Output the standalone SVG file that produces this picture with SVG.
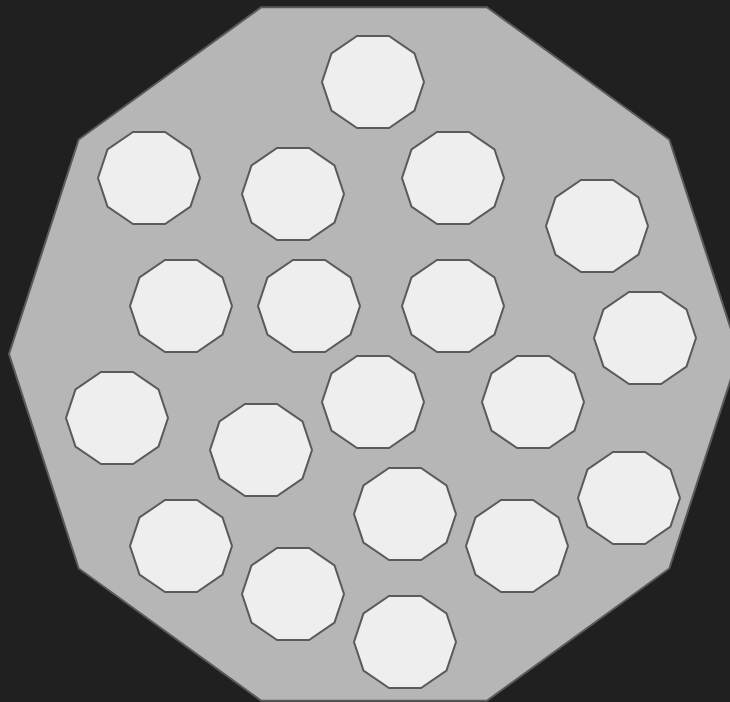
<svg xmlns="http://www.w3.org/2000/svg" xmlns:xlink="http://www.w3.org/1999/xlink" width="730" height="702" viewBox="0 0 730 702">
<style>
.outer{fill:#b6b6b6;stroke:#5a5a5a;stroke-width:2;stroke-linejoin:miter}
.cell{fill:#eeeeee;stroke:#5a5a5a;stroke-width:2}
</style>
<defs>
<polygon id="dec" points="-16,-46 16,-46 41.5,-28.5 51,0 41.5,28.5 16,46 -16,46 -41.5,28.5 -51,0 -41.5,-28.5"/>
</defs>
<rect width="730" height="702" fill="#202020"/>
<g id="container">
<polygon class="outer" points="261.2,7.2 486.8,7.2 669.3,139.5 739,354 669.3,568.5 486.8,700.8 261.2,700.8 78.7,568.5 9,354 78.7,139.5"/>
</g>
<g id="cells">
<use id="c1" class="cell" xlink:href="#dec" x="373" y="82"/>
<use id="c2" class="cell" xlink:href="#dec" x="149" y="178"/>
<use id="c3" class="cell" xlink:href="#dec" x="293" y="194"/>
<use id="c4" class="cell" xlink:href="#dec" x="453" y="178"/>
<use id="c5" class="cell" xlink:href="#dec" x="597" y="226"/>
<use id="c6" class="cell" xlink:href="#dec" x="181" y="306"/>
<use id="c7" class="cell" xlink:href="#dec" x="309" y="306"/>
<use id="c8" class="cell" xlink:href="#dec" x="453" y="306"/>
<use id="c9" class="cell" xlink:href="#dec" x="645" y="338"/>
<use id="c10" class="cell" xlink:href="#dec" x="117" y="418"/>
<use id="c11" class="cell" xlink:href="#dec" x="373" y="402"/>
<use id="c12" class="cell" xlink:href="#dec" x="533" y="402"/>
<use id="c13" class="cell" xlink:href="#dec" x="261" y="450"/>
<use id="c14" class="cell" xlink:href="#dec" x="629" y="498"/>
<use id="c15" class="cell" xlink:href="#dec" x="405" y="514"/>
<use id="c16" class="cell" xlink:href="#dec" x="181" y="546"/>
<use id="c17" class="cell" xlink:href="#dec" x="517" y="546"/>
<use id="c18" class="cell" xlink:href="#dec" x="293" y="594"/>
<use id="c19" class="cell" xlink:href="#dec" x="405" y="642"/>
</g>
</svg>
